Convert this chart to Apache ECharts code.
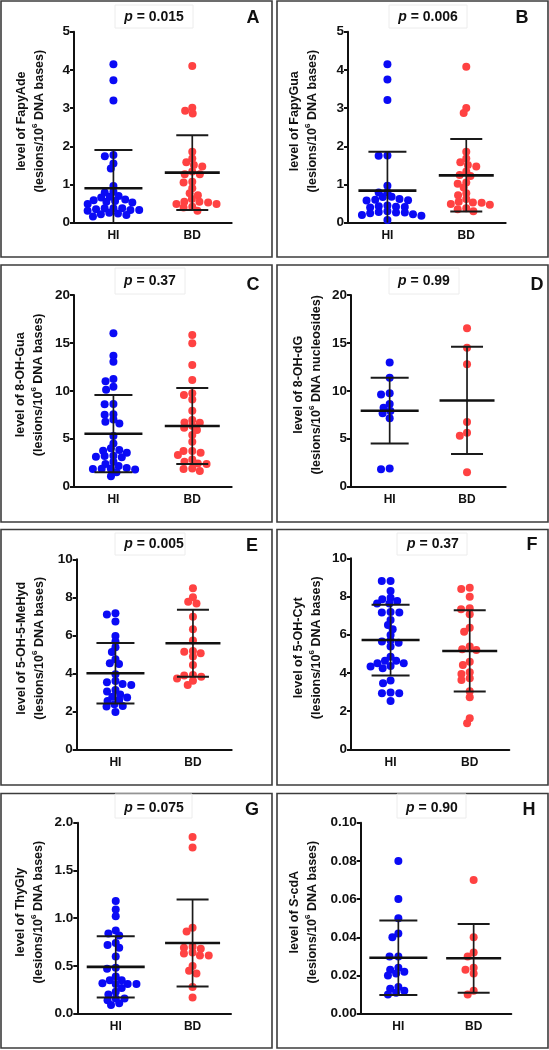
<!DOCTYPE html>
<html>
<head>
<meta charset="utf-8">
<script src="https://cdn.jsdelivr.net/npm/echarts@6/dist/echarts.min.js"></script>
<style>
html,body{margin:0;padding:0;background:#fff;}
#chart{width:549px;height:1050px;}
</style>
</head>
<body>
<div id="chart"></div>
<script>
// ---------------- data ----------------
const categories = ['HI', 'BD'];
const panelLetters = ['A', 'B', 'C', 'D', 'E', 'F', 'G', 'H'];
const pValues = ['0.015', '0.006', '0.37', '0.99', '0.005', '0.37', '0.075', '0.90'];
const lesionNames = ['FapyAde', 'FapyGua', '8-OH-Gua', '8-OH-dG', '5-OH-5-MeHyd', '5-OH-Cyt', 'ThyGly', '{it|S}-cdA'];
const unitWords = ['bases', 'bases', 'bases', 'nucleosides', 'bases', 'bases', 'bases', 'bases'];
const yMax = [5, 5, 20, 20, 10, 10, 2, 0.1];
const yStep = [1, 1, 5, 5, 2, 2, 0.5, 0.02];
const yDecimals = [0, 0, 0, 0, 0, 0, 1, 2];

const hiA = [4.15, 3.73, 3.2, 1.77, 1.74, 1.55, 1.42, 0.96, 0.81, 0.79, 0.70, 0.68, 0.66, 0.61, 0.59, 0.57, 0.55, 0.53, 0.49, 0.38, 0.38, 0.38, 0.35, 0.33, 0.33, 0.31, 0.26, 0.24, 0.22, 0.20, 0.16];
const bdA = [4.10, 3.01, 2.93, 2.86, 1.86, 1.68, 1.58, 1.51, 1.47, 1.34, 1.27, 1.27, 1.07, 1.05, 0.90, 0.77, 0.72, 0.62, 0.55, 0.55, 0.53, 0.49, 0.49, 0.42, 0.40, 0.31];
const hiB = [4.15, 3.75, 3.21, 1.76, 1.75, 0.97, 0.80, 0.79, 0.68, 0.67, 0.62, 0.60, 0.59, 0.58, 0.45, 0.43, 0.42, 0.41, 0.40, 0.30, 0.28, 0.27, 0.27, 0.25, 0.22, 0.20, 0.18, 0.07];
const bdB = [4.08, 3.0, 2.87, 1.86, 1.68, 1.58, 1.51, 1.47, 1.34, 1.25, 1.22, 1.05, 1.02, 0.92, 0.77, 0.72, 0.62, 0.55, 0.53, 0.52, 0.49, 0.47, 0.38, 0.35, 0.30];
const hiC = [16.0, 13.67, 13.04, 11.23, 10.99, 10.42, 10.12, 8.63, 8.6, 7.55, 7.51, 7.0, 6.78, 6.6, 5.3, 4.52, 4.0, 3.83, 3.75, 3.55, 3.23, 3.2, 3.13, 3.06, 2.6, 2.37, 2.16, 1.95, 1.91, 1.88, 1.85, 1.8, 1.5, 1.08];
const bdC = [15.83, 14.96, 12.7, 11.13, 9.74, 9.57, 9.11, 7.93, 6.96, 6.71, 6.68, 6.37, 6.16, 5.91, 5.39, 4.7, 3.72, 3.72, 3.55, 3.3, 2.85, 2.6, 2.43, 2.37, 1.91, 1.84, 1.63];
const hiD = [12.97, 11.37, 9.74, 9.63, 8.63, 8.24, 7.9, 7.65, 7.13, 1.91, 1.81];
const bdD = [16.52, 14.5, 12.77, 6.75, 5.63, 5.32, 1.5];
const hiE = [7.16, 7.1, 6.72, 5.96, 5.67, 5.37, 5.12, 4.74, 4.53, 4.49, 3.95, 3.6, 3.53, 3.44, 3.39, 3.12, 3.04, 2.89, 2.77, 2.72, 2.6, 2.54, 2.37, 2.28, 2.25, 1.96];
const bdE = [8.47, 8.0, 7.77, 7.68, 6.98, 6.32, 5.72, 5.18, 5.14, 5.05, 4.88, 4.44, 3.91, 3.88, 3.82, 3.72, 3.61, 3.39];
const hiF = [8.81, 8.81, 8.29, 7.94, 7.85, 7.76, 7.63, 7.63, 7.19, 7.16, 7.16, 6.77, 6.51, 6.28, 5.99, 5.69, 5.64, 5.58, 5.38, 4.85, 4.64, 4.64, 4.5, 4.5, 4.36, 4.33, 4.24, 3.6, 3.46, 2.98, 2.93, 2.93, 2.53];
const bdF = [8.46, 8.39, 7.99, 7.38, 7.33, 7.07, 6.37, 6.16, 5.38, 5.24, 5.2, 4.59, 4.42, 4.03, 3.94, 3.72, 3.63, 3.04, 2.72, 1.62, 1.36];
const hiG = [1.18, 1.09, 1.02, 0.87, 0.84, 0.82, 0.74, 0.72, 0.69, 0.6, 0.48, 0.47, 0.39, 0.35, 0.35, 0.32, 0.31, 0.31, 0.31, 0.27, 0.23, 0.2, 0.16, 0.16, 0.14, 0.11, 0.09];
const bdG = [1.85, 1.74, 0.9, 0.86, 0.7, 0.69, 0.68, 0.64, 0.63, 0.61, 0.61, 0.5, 0.45, 0.42, 0.28, 0.17];
const hiH = [0.080, 0.060, 0.050, 0.042, 0.040, 0.030, 0.030, 0.024, 0.023, 0.022, 0.021, 0.020, 0.014, 0.013, 0.012, 0.011, 0.010];
const bdH = [0.070, 0.040, 0.032, 0.030, 0.024, 0.023, 0.021, 0.012, 0.010];

const hiValues = [hiA, hiB, hiC, hiD, hiE, hiF, hiG, hiH];
const bdValues = [bdA, bdB, bdC, bdD, bdE, bdF, bdG, bdH];

const meanHI = [0.90, 0.84, 5.53, 7.93, 4.00, 5.72, 0.49, 0.0293];
const sdHI = [1.00, 1.02, 4.03, 3.43, 1.59, 1.85, 0.32, 0.0195];
const meanBD = [1.31, 1.24, 6.33, 9.00, 5.58, 5.15, 0.74, 0.029];
const sdBD = [0.98, 0.95, 3.97, 5.60, 1.76, 2.13, 0.455, 0.018];

// ---------------- layout / style ----------------
const FONT = '"Liberation Sans", Arial, sans-serif';
const BLUE = '#0a0af5';
const RED = '#ff4242';
const INK = '#111111';
const gridRects = [
  [74, 31.7, 157.7, 191],
  [348, 31.7, 157.7, 191],
  [74, 295, 157.7, 191.7],
  [351, 295, 154.7, 191.7],
  [76.7, 559.3, 155, 190],
  [351, 558.3, 158.3, 191],
  [77.3, 822.7, 153.7, 191],
  [360.7, 822.7, 150.6, 191]
];
const nameGaps = [25, 26, 26, 25, 28, 25, 30, 39];
const boxCols = [[1, 271], [277, 271]];
const boxRows = [[1, 256], [265, 257], [529.5, 255.5], [793.5, 254.5]];
const pTextPos = [[154, 17], [428, 17], [150, 281], [424, 281], [154, 544], [433, 544], [154, 808], [432, 808]];
const pBoxes = [[115, 5, 78, 23], [389, 5, 78, 23], [115, 268, 70, 26], [389, 268, 70, 26], [115, 533, 70, 22], [397, 533, 70, 22], [115, 794, 77, 24], [397, 794, 69, 24]];
const letterPos = [[253, 18], [522, 18], [253, 285], [537, 285], [252, 546], [532, 545], [252, 810], [529, 810]];
const meanHalf = [29, 27.5];
const capHalf = [19, 16];
const DOT = 8;
const SWARM_DX = 8.8;
const SWARM_DY = 5.2;

// beeswarm: elliptical no-overlap rule, points placed from the top down
function swarmOffsets(vals, pxPerUnit) {
  const order = vals.map((_, i) => i).sort((a, b) => vals[b] - vals[a]);
  const placed = [];
  const out = new Array(vals.length).fill(0);
  order.forEach(i => {
    const y = vals[i] * pxPerUnit;
    const ivs = [];
    placed.forEach(p => {
      const dy = Math.abs(p.y - y);
      if (dy < SWARM_DY) {
        const w = SWARM_DX * Math.sqrt(1 - (dy / SWARM_DY) * (dy / SWARM_DY));
        ivs.push([p.x - w, p.x + w]);
      }
    });
    const cands = [0];
    ivs.forEach(iv => cands.push(iv[0], iv[1]));
    cands.sort((a, b) => Math.abs(a) - Math.abs(b));
    let x = 0;
    for (const c of cands) {
      if (ivs.every(iv => c <= iv[0] + 1e-6 || c >= iv[1] - 1e-6)) { x = c; break; }
    }
    placed.push({ x, y });
    out[i] = x;
  });
  return out;
}

function errRender(yMin) {
  return function (params, api) {
    const ci = api.value(0), m = api.value(1), s = api.value(2);
    const c = api.coord([ci, m]);
    const top = api.coord([ci, m + s]);
    const clipped = (m - s) < yMin;
    const bot = api.coord([ci, clipped ? yMin : m - s]);
    const hw = meanHalf[ci], cw = capHalf[ci];
    const st = { stroke: '#1a1a1a', lineWidth: 2 };
    const children = [
      { type: 'line', shape: { x1: c[0], y1: top[1], x2: c[0], y2: bot[1] }, style: { stroke: '#1a1a1a', lineWidth: 1.7 } },
      { type: 'line', shape: { x1: c[0] - cw, y1: top[1], x2: c[0] + cw, y2: top[1] }, style: st },
      { type: 'line', shape: { x1: c[0] - hw, y1: c[1], x2: c[0] + hw, y2: c[1] }, style: { stroke: '#111', lineWidth: 2.6 } }
    ];
    if (!clipped) {
      children.push({ type: 'line', shape: { x1: c[0] - cw, y1: bot[1], x2: c[0] + cw, y2: bot[1] }, style: st });
    }
    return { type: 'group', children };
  };
}

const grids = [], xAxes = [], yAxes = [], series = [], graphics = [];

for (let i = 0; i < 8; i++) {
  const r = gridRects[i];
  grids.push({ left: r[0], top: r[1], width: r[2], height: r[3], containLabel: false, outerBoundsMode: 'none' });
  xAxes.push({
    type: 'category', gridIndex: i, data: categories,
    axisLine: { lineStyle: { color: INK, width: 2 } },
    axisTick: { alignWithLabel: true, length: 5, lineStyle: { color: INK, width: 2 } },
    axisLabel: { color: INK, fontFamily: FONT, fontWeight: 'bold', fontSize: 12, margin: 7 },
    splitLine: { show: false }
  });
  const dec = yDecimals[i];
  yAxes.push({
    type: 'value', gridIndex: i, min: 0, max: yMax[i], interval: yStep[i],
    name: 'level of ' + lesionNames[i] + '\n(lesions/10{sup|6} DNA ' + unitWords[i] + ')',
    nameLocation: 'middle', nameRotate: 90, nameGap: nameGaps[i], nameMoveOverlap: false,
    nameTextStyle: {
      color: INK, fontFamily: FONT, fontWeight: 'bold', fontSize: 12.5, lineHeight: 18, align: 'center',
      padding: [0, 0, 0, 12],
      rich: {
        sup: { fontSize: 8, fontWeight: 'bold', fontFamily: FONT, color: INK, verticalAlign: 'top', lineHeight: 18 },
        it: { fontSize: 12.5, fontWeight: 'bold', fontStyle: 'italic', fontFamily: FONT, color: INK, lineHeight: 18 }
      }
    },
    axisLine: { show: true, lineStyle: { color: INK, width: 2 } },
    axisTick: { show: true, length: 4, lineStyle: { color: INK, width: 2 } },
    axisLabel: { color: INK, fontFamily: FONT, fontWeight: 'bold', fontSize: 13.5, margin: 4,
      formatter: v => Number(v).toFixed(dec) },
    splitLine: { show: false }
  });
  const pxPerUnit = r[3] / yMax[i];
  [hiValues[i], bdValues[i]].forEach((vals, ci) => {
    const offs = swarmOffsets(vals, pxPerUnit);
    series.push({
      type: 'scatter', xAxisIndex: i, yAxisIndex: i, symbol: 'circle', symbolSize: DOT,
      itemStyle: { color: ci === 0 ? BLUE : RED, opacity: 1 },
      data: vals.map((v, k) => ({ value: [ci, v], symbolOffset: [offs[k], 0] })),
      z: 2, silent: true, animation: false
    });
  });
  series.push({
    type: 'custom', xAxisIndex: i, yAxisIndex: i, renderItem: errRender(0), clip: false,
    encode: { x: 0, y: 1 },
    data: [[0, meanHI[i], sdHI[i]], [1, meanBD[i], sdBD[i]]],
    z: 5, silent: true, animation: false
  });

  const col = boxCols[i % 2], row = boxRows[Math.floor(i / 2)];
  graphics.push({ type: 'rect', shape: { x: col[0], y: row[0], width: col[1], height: row[1] },
    style: { fill: 'none', stroke: '#3c3c3c', lineWidth: 1.6 }, z: 0 });
  const pb = pBoxes[i];
  graphics.push({ type: 'rect', shape: { x: pb[0], y: pb[1], width: pb[2], height: pb[3] },
    style: { fill: 'none', stroke: '#ececec', lineWidth: 1 }, z: 0 });
  graphics.push({ type: 'text', x: pTextPos[i][0], y: pTextPos[i][1], z: 10,
    style: { text: '{i|p} = ' + pValues[i], font: 'bold 14px ' + FONT, fill: INK, align: 'center', verticalAlign: 'middle',
      rich: { i: { font: 'italic bold 14px ' + FONT, fill: INK } } } });
  graphics.push({ type: 'text', x: letterPos[i][0], y: letterPos[i][1], z: 10,
    style: { text: panelLetters[i], font: 'bold 18px ' + FONT, fill: INK, align: 'center', verticalAlign: 'middle' } });
}

const chart = echarts.init(document.getElementById('chart'), null, { renderer: 'canvas', width: 549, height: 1050 });
chart.setOption({
  backgroundColor: '#ffffff',
  animation: false,
  grid: grids, xAxis: xAxes, yAxis: yAxes, series: series,
  graphic: graphics
});
</script>
</body>
</html>
